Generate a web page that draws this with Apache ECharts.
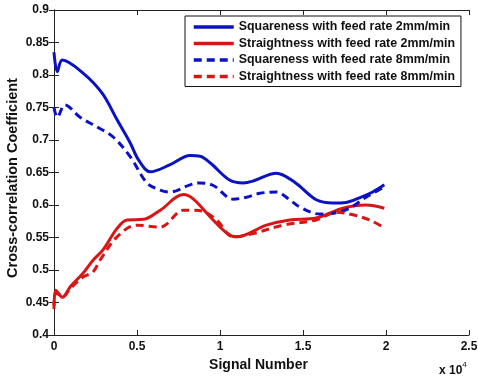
<!DOCTYPE html>
<html>
<head>
<meta charset="utf-8">
<script src="https://cdn.jsdelivr.net/npm/echarts@6/dist/echarts.min.js"></script>
<style>html,body{margin:0;padding:0;background:#fff}#c{width:478px;height:379px}</style>
</head>
<body>
<div id="c"></div>
<script>
const xTicks = ['0', '0.5', '1', '1.5', '2', '2.5'];
const yTicks = ['0.4', '0.45', '0.5', '0.55', '0.6', '0.65', '0.7', '0.75', '0.8', '0.85', '0.9'];
const seriesNames = [
  'Squareness with feed rate 2mm/min',
  'Straightness with feed rate 2mm/min',
  'Squareness with feed rate 8mm/min',
  'Straightness with feed rate 8mm/min'
];
const sq2X = [0, 0.02, 0.05, 0.175, 0.29, 0.38, 0.46, 0.51, 0.58, 0.7, 0.82, 0.88, 0.94, 1.06, 1.14, 1.2, 1.34, 1.45, 1.58, 1.68, 1.76, 1.84, 1.92, 1.99];
const sq2Y = [0.835, 0.805, 0.823, 0.803, 0.772, 0.731, 0.695, 0.669, 0.651, 0.662, 0.676, 0.675, 0.665, 0.638, 0.634, 0.637, 0.649, 0.635, 0.608, 0.603, 0.604, 0.611, 0.62, 0.631];
const st2X = [0, 0.01, 0.03, 0.05, 0.1, 0.175, 0.235, 0.295, 0.38, 0.44, 0.54, 0.64, 0.78, 0.84, 0.94, 1.04, 1.1, 1.28, 1.42, 1.58, 1.74, 1.88, 1.99];
const st2Y = [0.445, 0.469, 0.463, 0.458, 0.475, 0.495, 0.515, 0.531, 0.564, 0.577, 0.578, 0.592, 0.616, 0.609, 0.582, 0.557, 0.551, 0.569, 0.577, 0.58, 0.595, 0.6, 0.595];
const sq8X = [0, 0.02, 0.066, 0.157, 0.26, 0.355, 0.46, 0.56, 0.64, 0.7, 0.82, 0.88, 0.96, 1.08, 1.16, 1.24, 1.34, 1.42, 1.48, 1.6, 1.7, 1.78, 1.88, 1.99];
const sq8Y = [0.75, 0.735, 0.754, 0.735, 0.72, 0.705, 0.674, 0.634, 0.623, 0.62, 0.631, 0.634, 0.63, 0.609, 0.612, 0.618, 0.62, 0.608, 0.597, 0.586, 0.588, 0.595, 0.612, 0.628];
const st8X = [0, 0.01, 0.03, 0.05, 0.1, 0.175, 0.235, 0.277, 0.38, 0.5, 0.64, 0.78, 0.84, 0.9, 0.98, 1.08, 1.2, 1.38, 1.58, 1.7, 1.8, 1.9, 1.99];
const st8Y = [0.44, 0.465, 0.462, 0.458, 0.472, 0.489, 0.497, 0.515, 0.551, 0.569, 0.566, 0.592, 0.592, 0.59, 0.577, 0.551, 0.556, 0.569, 0.577, 0.589, 0.585, 0.577, 0.565];

const BLUE = '#0b12c4';
const RED = '#d81616';
const FONT = 'Liberation Sans';

function pairs(xs, ys) { return xs.map((x, i) => [x, ys[i]]); }

const chart = echarts.init(document.getElementById('c'), null, {renderer: 'canvas'});
const axisCommon = {
  type: 'value',
  axisLine: {show: true, lineStyle: {color: '#222', width: 1}},
  axisTick: {show: true, inside: true, length: 5, lineStyle: {color: '#222'}},
  splitLine: {show: false}
};
const mk = (name, xs, ys, color, dashed) => ({
  name, type: 'line', data: pairs(xs, ys), smooth: 0.35, symbol: 'none',
  lineStyle: {color, width: 3, type: dashed ? [8, 5] : 'solid'},
  itemStyle: {color}
});
chart.setOption({
  animation: false,
  backgroundColor: '#fff',
  grid: {left: 54, top: 10, right: 9, bottom: 44, containLabel: false, outerBoundsMode: 'none'},
  xAxis: [
    Object.assign({}, axisCommon, {
      min: 0, max: 2.5, interval: 0.5, position: 'bottom',
      name: 'Signal Number', nameLocation: 'middle', nameGap: 21,
      nameTextStyle: {fontFamily: FONT, fontWeight: 'bold', fontSize: 14, color: '#111', padding: [0, 6, 0, 0]},
      axisLabel: {margin: 6, fontFamily: FONT, fontWeight: 'bold', fontSize: 12, color: '#111',
        formatter: (v) => xTicks[Math.round(v / 0.5)]}
    }),
    Object.assign({}, axisCommon, {
      min: 0, max: 2.5, interval: 0.5, position: 'top', axisLabel: {show: false}
    })
  ],
  yAxis: [
    Object.assign({}, axisCommon, {
      min: 0.4, max: 0.9, interval: 0.05, position: 'left',
      name: 'Cross-correlation Coefficient', nameLocation: 'middle', nameGap: 34,
      nameMoveOverlap: false,
      nameTextStyle: {fontFamily: FONT, fontWeight: 'bold', fontSize: 14.5, color: '#111', padding: [0, 11, 0, 0]},
      axisLabel: {margin: 5, fontFamily: FONT, fontWeight: 'bold', fontSize: 12, color: '#111',
        formatter: (v) => yTicks[Math.round((v - 0.4) / 0.05)]}
    }),
    Object.assign({}, axisCommon, {
      min: 0.4, max: 0.9, interval: 0.05, position: 'right', axisLabel: {show: false}
    })
  ],
  legend: {
    orient: 'vertical', left: 185, top: 16,
    data: seriesNames,
    itemWidth: 40, itemHeight: 14, itemGap: 4.5,
    padding: [5, 6, 4, 7],
    itemStyle: {opacity: 0},
    lineStyle: {width: 3.5},
    borderColor: '#111', borderWidth: 1, backgroundColor: '#fff',
    textStyle: {fontFamily: FONT, fontWeight: 'bold', fontSize: 12.4, color: '#111'}
  },
  graphic: [{
    type: 'text', left: 439, top: 361,
    style: {
      text: '{a|x 10}{b|4}',
      rich: {
        a: {fontFamily: FONT, fontWeight: 'bold', fontSize: 12, fill: '#111', verticalAlign: 'bottom'},
        b: {fontFamily: FONT, fontSize: 8, fill: '#111', verticalAlign: 'top', padding: [0, 0, 8, 0]}
      }
    }
  }],
  series: [
    mk(seriesNames[0], sq2X, sq2Y, BLUE, false),
    mk(seriesNames[1], st2X, st2Y, RED, false),
    mk(seriesNames[2], sq8X, sq8Y, BLUE, true),
    mk(seriesNames[3], st8X, st8Y, RED, true)
  ]
});
</script>
</body>
</html>
